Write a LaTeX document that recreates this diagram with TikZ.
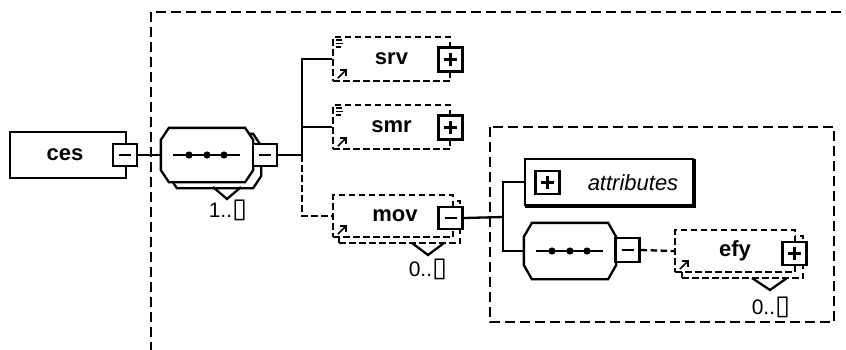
\documentclass[tikz,border=0pt]{standalone}
\usepackage{fontspec}
\setmainfont{Liberation Sans}
\newfontfamily\dvfont{DejaVu Sans}
\usetikzlibrary{calc}
\newcommand\infbox{\scalebox{1.3}{\dvfont ▯}}
\newcommand\minussign[1]{\draw[line width=2.2pt] ($(#1.center)+(-6,0)$) -- ($(#1.center)+(6,0)$);}
\newcommand\plussign[1]{\draw[line width=2.2pt] ($(#1.center)+(-6.5,0)$) -- ($(#1.center)+(6.5,0)$) ($(#1.center)+(0,-6.5)$) -- ($(#1.center)+(0,6.5)$);}
\newcommand\octa[2]{\draw[line width=2.3pt, fill=white] ($(#1.north west)+(8,0)$) -- ($(#1.north east)+(-8,0)$) -- ($(#1.north east)+(0,#2)$) -- ($(#1.south east)+(0,-#2)$) -- ($(#1.south east)+(-8,0)$) -- ($(#1.south west)+(8,0)$) -- ($(#1.south west)+(0,-#2)$) -- ($(#1.north west)+(0,#2)$) -- cycle;}
\newcommand\seqdots[1]{\draw[line width=2.3pt] ($(#1.center)+(-34,0)$) -- ($(#1.center)+(33,0)$);
  \fill ($(#1.center)+(-18,0)$) circle (3.6) ($(#1.center)+(0,0)$) circle (3.6) ($(#1.center)+(17,0)$) circle (3.6);}
\newcommand\refarrow[1]{\draw[line width=1.6pt] ($(#1.south west)+(6,-4)$) -- ($(#1.south west)+(14,-12)$);
  \draw[line width=1.6pt] ($(#1.south west)+(8.5,-12)$) -- ($(#1.south west)+(14,-12)$) -- ($(#1.south west)+(14,-6.5)$);}
\newcommand\docicon[1]{\draw[line width=1.6pt] ($(#1.north west)+(4,4)$) -- ++(6,0) ($(#1.north west)+(4,7.5)$) -- ++(7,0) ($(#1.north west)+(4,11)$) -- ++(5,0);}
\begin{document}
\begin{tikzpicture}[x=1pt,y=-1pt,line width=2.3pt,
  bigdash/.style={line width=2.3pt, dash pattern=on 10pt off 5pt},
  smalldash/.style={line width=2.3pt, dash pattern=on 6.5pt off 3.5pt},
  namefont/.style={font=\fontsize{22}{22}\selectfont\bfseries},
  plainbox/.style={draw, fill=white, inner sep=0pt, line width=2.3pt},
  optbox/.style={draw, fill=white, inner sep=0pt, smalldash},
  ghost/.style={inner sep=0pt, draw=none},
  btn/.style={draw, fill=white, inner sep=0pt, minimum width=24pt, minimum height=22pt, line width=2.3pt},
  mult/.style={font=\fontsize{21}{21}\selectfont, inner sep=0pt}]
\useasboundingbox (0,0) rectangle (846,349);
% frames
\draw[bigdash] (151,352) -- (151,12) -- (850,12);
\draw[bigdash] (490,127) rectangle (834,322);
% ces
\node[plainbox, namefont, minimum width=116pt, minimum height=46pt] (ces) at (68,155) {\hspace*{-6pt}ces};
\node[btn] (cesb) at (125,155) {};
\minussign{cesb}
% sequence 1
\node[ghost, minimum width=90pt, minimum height=52pt] (seqs) at (215,161) {};
\node[ghost, minimum width=90pt, minimum height=52pt] (seq1) at (207,155) {};
\octa{seqs}{12}
\octa{seq1}{12}
\seqdots{seq1}
\node[btn] (seq1b) at (265,155) {};
\minussign{seq1b}
\draw (213,187) -- (227,199) -- (241,187);
\node[mult, anchor=base] (m1) at (228,217) {1..\infbox};
% srv, smr
\node[optbox, namefont, minimum width=117pt, minimum height=44pt] (srv) at (391.5,59) {srv};
\node[btn, minimum height=24pt] (srvb) at (450.5,59.5) {};
\plussign{srvb}
\docicon{srv}
\refarrow{srv}
\node[optbox, namefont, minimum width=117pt, minimum height=44pt] (smr) at (391.5,127) {smr};
\node[btn, minimum height=24pt] (smrb) at (450.5,127.5) {};
\plussign{smrb}
\docicon{smr}
\refarrow{smr}
% mov
\node[optbox, minimum width=121pt, minimum height=42pt] (movs) at (399.5,222) {};
\node[optbox, namefont, minimum width=120pt, minimum height=42pt] (mov) at (393,216) {\hspace*{4pt}mov};
\node[btn] (movb) at (450.5,218) {};
\minussign{movb}
\refarrow{mov}
\draw (412,243) -- (428,255) -- (444,243);
\node[mult, anchor=base] (m2) at (428,276) {0..\infbox};
% attributes
\node[plainbox, minimum width=168pt, minimum height=46pt] (attrs) at (610.5,183.5) {};
\node[plainbox, minimum width=168pt, minimum height=46pt] (attr) at (609,182) {};
\node[btn, minimum height=23pt] (attrb) at (547.5,182.5) {};
\plussign{attrb}
\node[font=\fontsize{22}{22}\selectfont\itshape, inner sep=0pt] (attrt) at (633,183) {attributes};
% sequence 2
\node[ghost, minimum width=90pt, minimum height=54pt] (seq2) at (570,251) {};
\octa{seq2}{14}
\seqdots{seq2}
\node[btn, minimum height=24pt] (seq2b) at (627.5,250) {};
\minussign{seq2b}
% efy
\node[optbox, minimum width=121pt, minimum height=42pt] (efys) at (742.5,257) {};
\node[optbox, namefont, minimum width=120pt, minimum height=42pt] (efy) at (735,251) {efy};
\node[btn, minimum height=23pt] (efyb) at (794.5,253.5) {};
\plussign{efyb}
\refarrow{efy}
\draw (752,278) -- (770,290) -- (787,278);
\node[mult, anchor=base] (m3) at (771,314) {0..\infbox};
% connectors
\coordinate (J1) at (302,155);
\coordinate (J2) at (503,217);
\draw (cesb.east) -- (seq1.west);
\draw (seq1b.east) -- (J1);
\draw (J1) |- (srv.west);
\draw (J1) |- (smr.west);
\draw[smalldash] (J1) |- (mov.west);
\draw (movb.east) -- (J2);
\draw (J2) |- (attr.west);
\draw (J2) |- (seq2.west);
\draw[smalldash] (seq2b.east) -- (efy.west);
\end{tikzpicture}
\end{document}
